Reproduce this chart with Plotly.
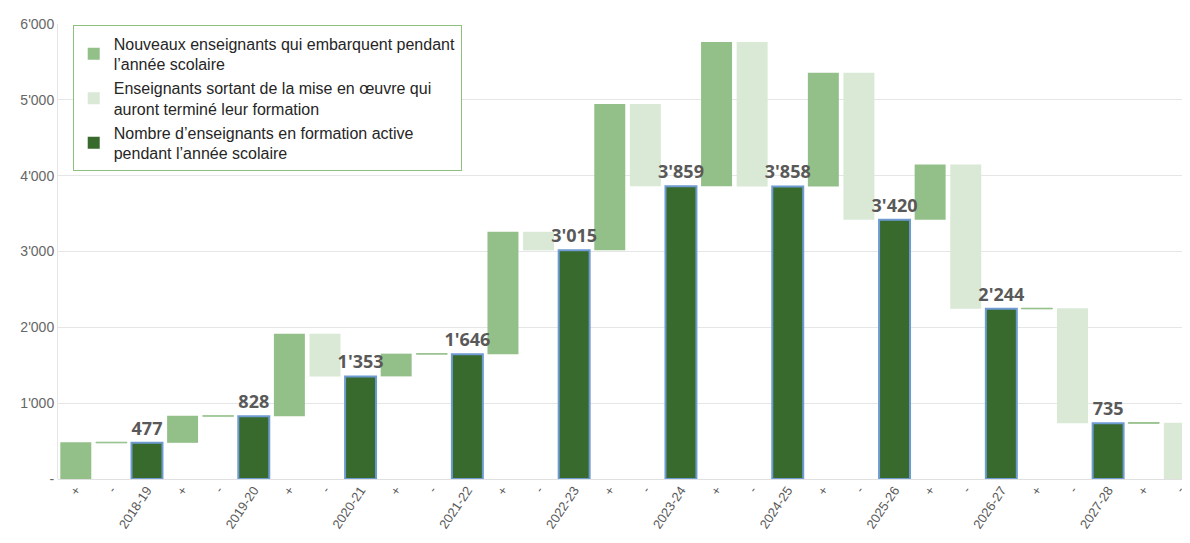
import plotly.graph_objects as go

years = ["2018-19", "2019-20", "2020-21", "2021-22", "2022-23",
         "2023-24", "2024-25", "2025-26", "2026-27", "2027-28"]
# totals (active teachers in training during school year)
totals = [477, 828, 1353, 1646, 3015, 3859, 3858, 3420, 2244, 735]
# new teachers joining during each step (+) ; last entry = after 2027-28
new_teachers = [485, 357, 1088, 300, 1614, 1930, 1904, 1500, 726, 8, 8]
# teachers leaving after training (-)
leaving = [8, 6, 563, 7, 245, 1086, 1905, 1938, 1902, 1517, 743]

y_tickvals = [0, 1000, 2000, 3000, 4000, 5000, 6000]
y_ticktext = ["-", "1'000", "2'000", "3'000", "4'000", "5'000", "6'000"]

legend_names = [
    "Nouveaux enseignants qui embarquent pendant<br>l’année scolaire",
    "Enseignants sortant de la mise en œuvre qui<br>auront terminé leur formation",
    "Nombre d’enseignants en formation active<br>pendant l’année scolaire",
]

C_PLUS = "#93bf89"
C_MINUS = "#d9e9d5"
C_TOTAL = "#386a2d"
C_EDGE = "#6f9bd3"

labels = []
for y in years:
    labels += ["+", "-", y]
labels += ["+", "-"]
n_steps = len(new_teachers)

plus_x, plus_base, plus_h = [], [], []
minus_x, minus_base, minus_h = [], [], []
tot_x, tot_h = [], []
prev = 0
for k in range(n_steps):
    cur = totals[k] if k < len(totals) else 0
    plus_x.append(3 * k)
    plus_base.append(prev)
    plus_h.append(new_teachers[k])
    minus_x.append(3 * k + 1)
    minus_base.append(prev + new_teachers[k] - leaving[k])
    minus_h.append(leaving[k])
    if k < len(totals):
        tot_x.append(3 * k + 2)
        tot_h.append(totals[k])
    prev = cur

minus_line_w = [1 if h < 20 else 0 for h in minus_h]
plus_line_w = [1 if h < 20 else 0 for h in plus_h]

fig = go.Figure()
W = 0.87
fig.add_trace(go.Bar(x=plus_x, y=plus_h, base=plus_base, width=W,
                     marker=dict(color=C_PLUS, line=dict(color=C_PLUS, width=plus_line_w)),
                     showlegend=False, hoverinfo="skip"))
fig.add_trace(go.Bar(x=minus_x, y=minus_h, base=minus_base, width=W,
                     marker=dict(color=C_MINUS, line=dict(color=C_PLUS, width=minus_line_w)),
                     showlegend=False, hoverinfo="skip"))
fig.add_trace(go.Bar(x=tot_x, y=tot_h, width=W,
                     marker=dict(color=C_TOTAL, line=dict(color=C_EDGE, width=2)),
                     text=[f"{v:,}".replace(",", "'") for v in tot_h],
                     textposition="outside", cliponaxis=False, constraintext="none",
                     textfont=dict(family="Open Sans", size=18, color="#595959", weight="bold"),
                     showlegend=False, hoverinfo="skip"))

for name, col, grp in zip(legend_names, [C_PLUS, C_MINUS, C_TOTAL], ["a", "b", "c"]):
    fig.add_trace(go.Scatter(x=[None], y=[None], mode="markers", name=name,
                             legendgroup=grp,
                             marker=dict(symbol="square", size=16, color=col)))

fig.update_layout(
    width=1190, height=543,
    margin=dict(l=50, r=8, t=11, b=72),
    paper_bgcolor="white", plot_bgcolor="white",
    barmode="overlay",
    font=dict(family="Liberation Sans", size=14, color="#595959"),
    legend=dict(x=0.013, y=0.997, xanchor="left", yanchor="top",
                bgcolor="white", bordercolor="#8dc07f", borderwidth=1,
                font=dict(family="Liberation Sans", size=16, color="#262626"),
                tracegroupgap=0, itemsizing="constant"),
    xaxis=dict(range=[-0.5, 31.3], tickmode="array",
               tickvals=list(range(len(labels))), ticktext=labels,
               tickangle=-56, showgrid=False, zeroline=False, showline=False,
               ticks="", tickfont=dict(size=13, color="#595959")),
    yaxis=dict(range=[0, 6000], tickvals=y_tickvals, ticktext=y_ticktext,
               showgrid=True, gridcolor="#e6e6e6", gridwidth=1,
               zeroline=True, zerolinecolor="#e0e0e0", zerolinewidth=1,
               showline=True, linecolor="#e6e6e6", linewidth=1,
               ticks="", ticklen=0, tickfont=dict(size=14, color="#666666")),
)

fig.write_html("out.html")
